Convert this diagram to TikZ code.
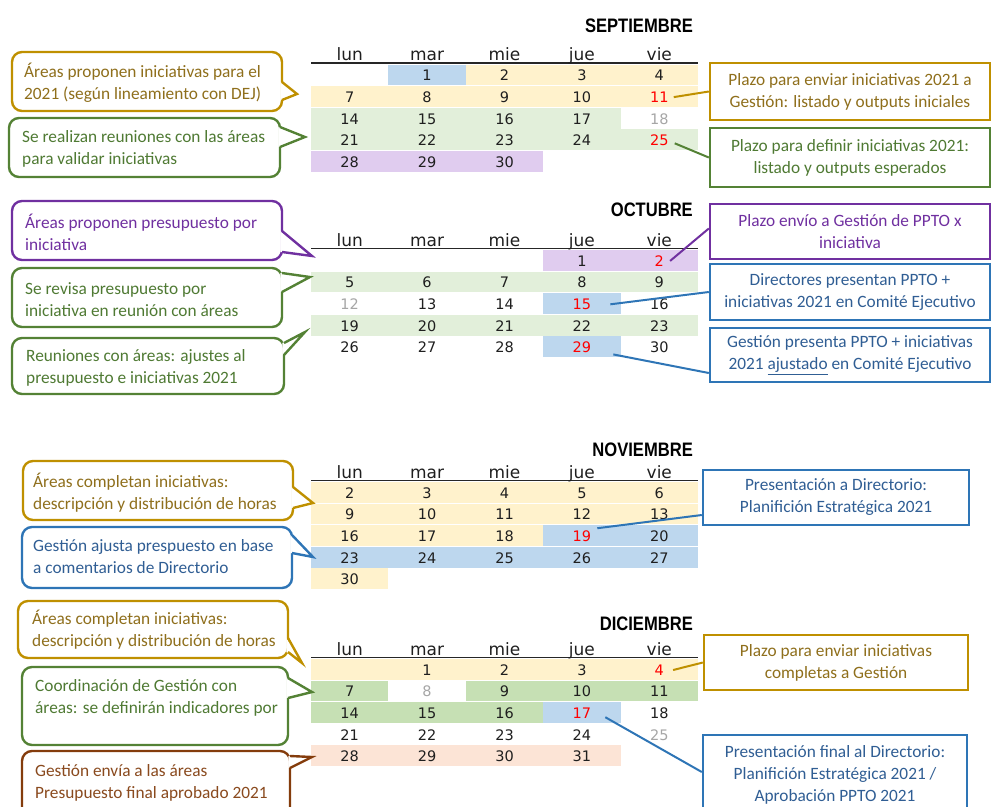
\documentclass[tikz,border=0pt]{standalone}
\usepackage{fontspec}
\setmainfont{Carlito}
\newfontfamily\calfont{DejaVu Sans}
\newfontfamily\monfont{Liberation Sans}[FakeStretch=0.85]

% outline / text colours of the notes
\definecolor{cgold}{HTML}{BF9000}
\definecolor{tgold}{HTML}{8F6F1C}
\definecolor{cgreen}{HTML}{548235}
\definecolor{tgreen}{HTML}{4F7A33}
\definecolor{cpurple}{HTML}{7030A0}
\definecolor{tpurple}{HTML}{7030A0}
\definecolor{cblue}{HTML}{2E75B6}
\definecolor{tblue}{HTML}{305E94}
\definecolor{cbrown}{HTML}{843C0C}
\definecolor{tbrown}{HTML}{8A4A1E}
% calendar cell fills
\definecolor{fyel}{HTML}{FFF2CC}
\definecolor{fgrn}{HTML}{E2EFDA}
\definecolor{fgrnb}{HTML}{C6E0B4}
\definecolor{fblu}{HTML}{BDD7EE}
\definecolor{fpur}{HTML}{E0CCEF}
\definecolor{fsal}{HTML}{FCE4D6}
\definecolor{dayred}{HTML}{FF0000}
\definecolor{daygrey}{HTML}{A6A6A6}

\tikzset{
  cal/.style={font=\calfont\fontsize{14.5}{15}\selectfont, anchor=base, inner sep=1pt, text=black!88},
  hdr/.style={font=\calfont\fontsize{17}{17}\selectfont, anchor=base, inner sep=0pt, text=black!88},
  mon/.style={font=\monfont\bfseries\fontsize{19.5}{20}\selectfont, anchor=base east, inner sep=0pt},
  rule/.style={line width=1.5pt, black!85},
  ctext/.style={font=\fontsize{17.3}{22}\selectfont, align=left, anchor=west, inner sep=0pt},
  cbox/.style={line width=2.4pt, rounded corners=10pt, fill=white},
  cptr/.style={line width=2.4pt, line join=miter},
  rbox/.style={draw, line width=2.4pt, fill=white, font=\fontsize{17.3}{22}\selectfont, align=center, inner sep=0pt},
  link/.style={line width=2pt},
  redday/.style={text=dayred},
  greyday/.style={text=daygrey}
}

% fill a row band: colour, first column, last column edge, row, rule y
\newcommand\band[5]{\fill[#1] ({311+77.4*#2},{#5+1.5+21.6*#4}) rectangle ({311+77.4*#3},{#5+1.5+21.6*#4+20.8});}
% day number: name, column, row, rule y, text, extra style
\newcommand\dd[6]{\node[cal,#6] (#1) at ({349.7+77.4*#2},{#4+1.5+21.6*#3+16.3}) {#5};}
% month rule and weekday names: prefix, rule y
\newcommand\weekhead[2]{%
  \draw[rule] (311,#2) -- (698,#2);
  \foreach \n [count=\i from 0] in {lun,mar,mie,jue,vie}
    \node[hdr] (#1h\i) at ({349.7+77.4*\i},{#2-2.5}) {\n};}
% rounded note with a wedge: colour, x1, y1, x2, y2, wedge base top, wedge base bottom, tip x, tip y
\newcommand\callout[9]{%
  \draw[#1, cbox] (#2,#3) rectangle (#4,#5);
  \fill[white] ({#4-1.6},#6) -- (#8,#9) -- ({#4-1.6},#7) -- cycle;
  \draw[#1, cptr] (#4,#6) -- (#8,#9) -- (#4,#7);}

\begin{document}
\begin{tikzpicture}[x=1pt,y=-1pt]
\useasboundingbox (0,0) rectangle (992,806);
\clip (0,0) rectangle (992,806);

% ---------------- SEPTIEMBRE ----------------
\band{fblu}{1}{2}{0}{63}
\band{fyel}{2}{5}{0}{63}
\band{fyel}{0}{5}{1}{63}
\band{fgrn}{0}{4}{2}{63}
\band{fgrn}{0}{5}{3}{63}
\band{fpur}{0}{3}{4}{63}
\node[mon] (smon) at (693,32.3) {SEPTIEMBRE};
\weekhead{s}{63}
\foreach \t/\c/\r in {1/1/0,2/2/0,3/3/0,4/4/0,7/0/1,8/1/1,9/2/1,10/3/1,
  14/0/2,15/1/2,16/2/2,17/3/2,21/0/3,22/1/3,23/2/3,24/3/3,28/0/4,29/1/4,30/2/4}
  \dd{s\t}{\c}{\r}{63}{\t}{};
\dd{s11}{4}{1}{63}{11}{redday}
\dd{s18}{4}{2}{63}{18}{greyday}
\dd{s25}{4}{3}{63}{25}{redday}

% ---------------- OCTUBRE ----------------
\band{fpur}{3}{5}{0}{248.5}
\band{fgrn}{0}{5}{1}{248.5}
\band{fblu}{3}{4}{2}{248.5}
\band{fgrn}{0}{5}{3}{248.5}
\band{fblu}{3}{4}{4}{248.5}
\node[mon] (omon) at (693,216.7) {OCTUBRE};
\weekhead{o}{248.5}
\foreach \t/\c/\r in {1/3/0,5/0/1,6/1/1,7/2/1,8/3/1,9/4/1,13/1/2,14/2/2,16/4/2,
  19/0/3,20/1/3,21/2/3,22/3/3,23/4/3,26/0/4,27/1/4,28/2/4,30/4/4}
  \dd{o\t}{\c}{\r}{248.5}{\t}{};
\dd{o2}{4}{0}{248.5}{2}{redday}
\dd{o12}{0}{2}{248.5}{12}{greyday}
\dd{o15}{3}{2}{248.5}{15}{redday}
\dd{o29}{3}{4}{248.5}{29}{redday}

% ---------------- NOVIEMBRE ----------------
\band{fyel}{0}{5}{0}{480.5}
\band{fyel}{0}{5}{1}{480.5}
\band{fyel}{0}{3}{2}{480.5}
\band{fblu}{3}{5}{2}{480.5}
\band{fblu}{0}{5}{3}{480.5}
\band{fyel}{0}{1}{4}{480.5}
\node[mon] (nmon) at (693,456) {NOVIEMBRE};
\weekhead{n}{480.5}
\foreach \t/\c/\r in {2/0/0,3/1/0,4/2/0,5/3/0,6/4/0,9/0/1,10/1/1,11/2/1,12/3/1,13/4/1,
  16/0/2,17/1/2,18/2/2,20/4/2,23/0/3,24/1/3,25/2/3,26/3/3,27/4/3,30/0/4}
  \dd{n\t}{\c}{\r}{480.5}{\t}{};
\dd{n19}{3}{2}{480.5}{19}{redday}

% ---------------- DICIEMBRE ----------------
\band{fyel}{0}{5}{0}{657.5}
\band{fgrnb}{0}{1}{1}{657.5}
\band{fgrnb}{2}{5}{1}{657.5}
\band{fgrnb}{0}{3}{2}{657.5}
\band{fblu}{3}{4}{2}{657.5}
\band{fsal}{0}{4}{4}{657.5}
\node[mon] (dmon) at (693,630) {DICIEMBRE};
\weekhead{d}{657.5}
\foreach \t/\c/\r in {1/1/0,2/2/0,3/3/0,7/0/1,9/2/1,10/3/1,11/4/1,
  14/0/2,15/1/2,16/2/2,18/4/2,21/0/3,22/1/3,23/2/3,24/3/3,28/0/4,29/1/4,30/2/4,31/3/4}
  \dd{d\t}{\c}{\r}{657.5}{\t}{};
\dd{d4}{4}{0}{657.5}{4}{redday}
\dd{d8}{1}{1}{657.5}{8}{greyday}
\dd{d17}{3}{2}{657.5}{17}{redday}
\dd{d25}{4}{3}{657.5}{25}{greyday}

% ---------------- notes on the left ----------------
\callout{cgold}{12}{52}{282}{111}{82}{100}{297}{94}
\node[ctext, text=tgold] (ls1) at (24,83) {Áreas proponen iniciativas para el\\2021 (según lineamiento con DEJ)};
\callout{cgreen}{9}{118}{280}{177}{127}{147}{305}{137}
\node[ctext, text=tgreen] (ls2) at (22,149) {Se realizan reuniones con las áreas\\para validar iniciativas};

\callout{cpurple}{12}{201}{282}{260}{231}{252}{312}{256}
\node[ctext, text=tpurple] (lo1) at (25,232) {Áreas proponen presupuesto por\\iniciativa};
\callout{cgreen}{12}{268}{282}{327}{273}{292}{310}{277}
\node[ctext, text=tgreen] (lo2) at (25,300) {Se revisa presupuesto por\\iniciativa en reunión con áreas};
\callout{cgreen}{12}{338}{284}{394}{343}{355}{305}{332}
\node[ctext, text=tgreen] (lo3) at (26,368) {Reuniones con áreas: ajustes al\\presupuesto e iniciativas 2021};

\callout{cgold}{23}{461}{293}{520}{487}{508}{313}{503}
\node[ctext, text=tgold] (ln1) at (33,493) {Áreas completan iniciativas:\\descripción y distribución de horas};
\callout{cblue}{22}{527}{292}{588}{535}{553}{313}{557}
\node[ctext, text=tblue] (ln2) at (33,556.5) {Gestión ajusta prespuesto en base\\a comentarios de Directorio};

\callout{cgold}{18}{601}{288}{658}{638}{652}{302}{663}
\node[ctext, text=tgold] (ld1) at (32,630) {Áreas completan iniciativas:\\descripción y distribución de horas};
\callout{cgreen}{22}{667}{288}{745}{678}{698}{312}{692}
\node[ctext, text=tgreen] (ld2) at (35,697.5) {Coordinación de Gestión con\\áreas: se definirán indicadores por};
\callout{cbrown}{22}{751}{290}{840}{756}{768}{312}{757}
\node[ctext, text=tbrown] (ld3) at (35,783) {Gestión envía a las áreas\\Presupuesto final aprobado 2021};

% ---------------- deadline boxes on the right ----------------
\node[rbox, draw=cgold, text=tgold, minimum width=280pt, minimum height=57pt] (pl1) at (850,91.5)
  {Plazo para enviar iniciativas 2021 a\\Gestión: listado y outputs iniciales};
\node[rbox, draw=cgreen, text=tgreen, minimum width=280pt, minimum height=59pt] (pl2) at (850,157.5)
  {Plazo para definir iniciativas 2021:\\listado y outputs esperados};
\node[rbox, draw=cpurple, text=tpurple, minimum width=280pt, minimum height=55pt] (po1) at (850,231.5)
  {Plazo envío a Gestión de PPTO x\\iniciativa};
\node[rbox, draw=cblue, text=tblue, minimum width=280pt, minimum height=56pt] (po2) at (850,292)
  {Directores presentan PPTO +\\iniciativas 2021 en Comité Ejecutivo};
\node[rbox, draw=cblue, text=tblue, minimum width=280pt, minimum height=54pt] (po3) at (850,355)
  {Gestión presenta PPTO + iniciativas\\2021 \underline{ajustado} en Comité Ejecutivo};
\node[rbox, draw=cblue, text=tblue, minimum width=266pt, minimum height=55pt] (pn1) at (836,497.5)
  {Presentación a Directorio:\\Planifición Estratégica 2021};
\node[rbox, draw=cgold, text=tgold, minimum width=264pt, minimum height=55pt] (pd1) at (836,662.5)
  {Plazo para enviar iniciativas\\completas a Gestión};
\node[rbox, draw=cblue, text=tblue, minimum width=264pt, minimum height=80pt] (pd2) at (835,775)
  {Presentación final al Directorio:\\Planifición Estratégica 2021 /\\Aprobación PPTO 2021};

% ---------------- connectors ----------------
\draw[link, cgold] ([xshift=4pt]s11.east) -- (pl1.west);
\draw[link, cgreen] ([xshift=5pt,yshift=-3pt]s25.east) -- (pl2.west);
\draw[link, cpurple] ([xshift=5pt]o2.east) -- ([yshift=3pt]po1.west);
\draw[link, cblue] ([xshift=18pt]o15.east) -- (po2.west);
\draw[link, cblue] ([xshift=21pt,yshift=-7pt]o29.east) -- ([yshift=-18pt]po3.west);
\draw[link, cblue] ([xshift=5pt,yshift=8pt]n19.east) -- ([yshift=-17.5pt]pn1.west);
\draw[link, cgold] ([xshift=8pt]d4.east) -- (pd1.west);
\draw[link, cblue] ([xshift=13pt,yshift=-4pt]d17.east) -- ([yshift=3pt]pd2.west);
\end{tikzpicture}
\end{document}
